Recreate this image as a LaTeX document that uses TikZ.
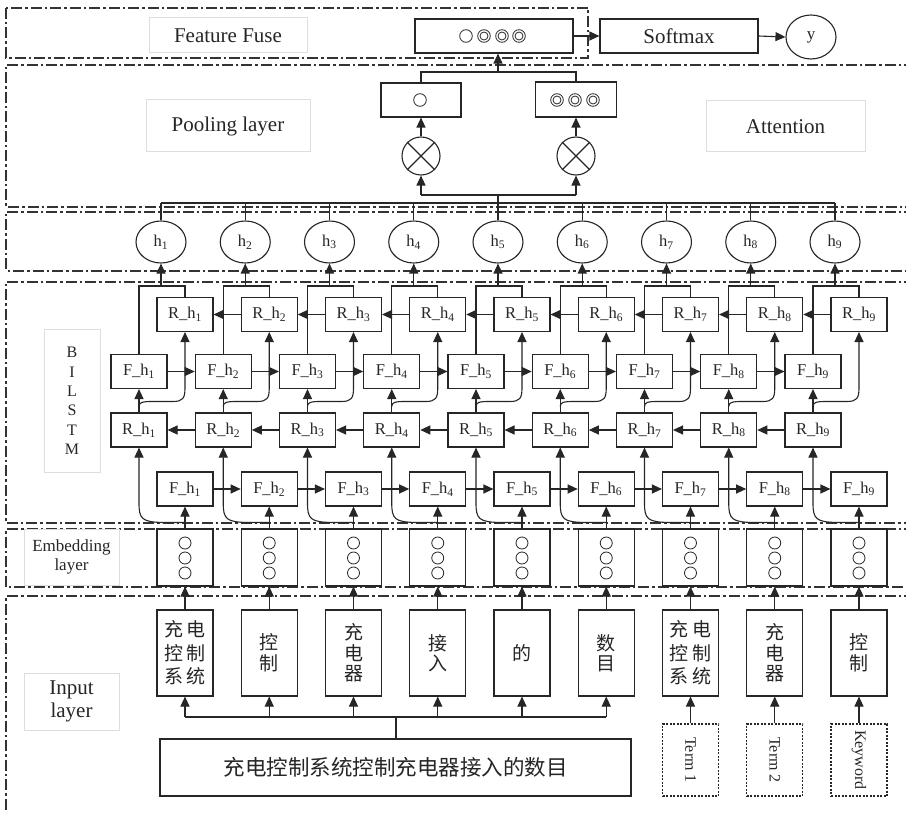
\documentclass[tikz,border=0pt]{standalone}
\usepackage{fontspec}
\setmainfont{Liberation Serif}
\newfontfamily\cjk{Noto Sans CJK SC}
\usetikzlibrary{arrows.meta,calc,shapes.geometric}
\begin{document}
\begin{tikzpicture}[x=1pt,y=-1pt,
 ln/.style={draw=black!85,line width=1.1pt},
 arr/.style={ln,-{Triangle[length=10pt,width=9pt]}},
 frm/.style={draw=black!80,line width=1.2pt,dash pattern=on 11pt off 3pt on 2.5pt off 3pt},
 lbl/.style={draw=black!13,line width=1pt,text=black!85,font=\fontsize{21}{24}\selectfont,align=center,inner sep=0pt},
 box/.style={draw=black!85,line width=1.1pt,minimum width=56pt,minimum height=34pt,inner sep=0pt,text=black!85,font=\fontsize{16.5}{18}\selectfont},
 hc/.style={ellipse,draw=black!85,line width=1.1pt,minimum width=50pt,minimum height=42pt,inner sep=0pt,text=black!85,font=\fontsize{16.5}{18}\selectfont},
 ebox/.style={box,minimum height=57pt},
 wbox/.style={box,minimum height=86pt,font=\cjk\fontsize{19}{20.5}\selectfont,align=center},
 wboxw/.style={wbox,font=\cjk\fontsize{19}{23.5}\selectfont},
 tbox/.style={box,minimum height=72pt,dash pattern=on 2pt off 1.5pt,font=\fontsize{16}{18}\selectfont},
 ring/.style={draw=black!85,line width=0.8pt},
 otc/.style={circle,draw=black!85,line width=1.1pt,minimum size=38pt,inner sep=0pt},
]
\clip (0,0) rectangle (906,813);
\fill[white] (0,0) rectangle (906,813);

% frames
\draw[frm] (6,8) rectangle (588,58);
\draw[frm] (915,65) -- (6,65) -- (6,207) -- (915,207);
\draw[frm] (915,212) -- (6,212) -- (6,271) -- (915,271);
\draw[frm] (915,282) -- (6,282) -- (6,523) -- (915,523);
\draw[frm] (915,529) -- (6,529) -- (6,587) -- (915,587);
\draw[frm] (915,596) -- (6,596) -- (6,820);

% layer labels
\node[lbl,minimum width=158pt,minimum height=35pt] (lff) at (228,35.5) {Feature Fuse};
\node[lbl,minimum width=164pt,minimum height=52pt] (lpl) at (228,126) {Pooling layer};
\node[lbl,minimum width=159pt,minimum height=51pt] (lat) at (785.5,126.5) {Attention};
\node[lbl,minimum width=56pt,minimum height=142pt,font=\fontsize{16}{19.4}\selectfont] (lbi) at (72,401) {B\\I\\L\\S\\T\\M};
\node[lbl,minimum width=95pt,minimum height=56pt,font=\fontsize{17}{19}\selectfont] (lem) at (71.5,557) {Embedding\\layer};
\node[lbl,minimum width=95pt,minimum height=57pt,font=\fontsize{21}{23}\selectfont] (lin) at (71.5,701.5) {Input\\layer};

% top part
\node[box,minimum width=158pt] (fuse) at (494,36) {};
\draw[ring] (466,36) circle (6.3pt);
\foreach \cx in {484,502,519}{\draw[ring] (\cx,36) circle (6.3pt) (\cx,36) circle (4pt);}
\node[box,minimum width=158pt,font=\fontsize{21}{24}\selectfont] (soft) at (679,36) {Softmax};
\node[hc,minimum height=44pt,font=\fontsize{17}{18}\selectfont] (y) at (811,37) {y};
\draw[arr] (fuse.east) -- (soft.west);
\draw[arr] (soft.east) -- (y.west);

\node[box,minimum width=80pt] (p1) at (421,100) {};
\draw[ring] (420,100) circle (6.3pt);
\node[box,minimum width=81pt,minimum height=35pt] (p2) at (576,99.5) {};
\foreach \cx in {557,575,593}{\draw[ring] (\cx,100) circle (6.3pt) (\cx,100) circle (4pt);}
\node[otc] (o1) at (421,156) {};
\node[otc] (o2) at (576,156) {};
\foreach \o in {o1,o2}{\draw[ln] (\o.north east) -- (\o.south west) (\o.north west) -- (\o.south east);}

% columns
\foreach \i in {1,...,9}{
 \pgfmathsetmacro\hx{161+84.25*(\i-1)}
 \pgfmathsetmacro\ax{\hx-22}
 \pgfmathsetmacro\bx{\hx+24}
 \node[hc] (h\i) at (\hx,242) {h\textsubscript{\i}};
 \node[box] (ra\i) at (\bx,314.5) {R\_h\textsubscript{\i}};
 \node[box] (fb\i) at (\ax,371.5) {F\_h\textsubscript{\i}};
 \node[box] (rc\i) at (\ax,430) {R\_h\textsubscript{\i}};
 \node[box] (fd\i) at (\bx,489) {F\_h\textsubscript{\i}};
 \node[ebox] (e\i) at (\bx,557.5) {};
 \draw[ring] (\bx,543) circle (6pt) (\bx,558) circle (6pt) (\bx,573) circle (6pt);
 % embedding -> forward / reverse
 \draw[arr] (e\i.north) -- (fd\i.south);
 \draw[arr] ($(e\i.north)+(0,-6)$) -- (\hx+2,522.5) .. controls (\ax+3,522) and (\ax,519) .. (\ax,503) -- (rc\i.south);
 % reverse -> forward, reverse
 \draw[arr] (rc\i.north) -- (fb\i.south);
 \draw[arr] ($(rc\i.north)+(0,-6)$) .. controls (\ax,402.5) and (\ax+3,401.5) .. (\ax+13,401.5) -- (\bx-12,401.5) .. controls (\bx-2,401.5) and (\bx,398) .. (\bx,388) -- (ra\i.south);
 % merge to h
 \draw[ln] (fb\i.north) -- (\ax,286) -- (\bx,286) -- (ra\i.north);
 \draw[arr] (\hx,286) -- (h\i.south);
 \draw[ln] (h\i.north) -- (\hx,203);
}
\foreach \i in {1,...,8}{
 \pgfmathtruncatemacro\j{\i+1}
 \draw[arr] (ra\j.west) -- (ra\i.east);
 \draw[arr] (fb\i.east) -- (fb\j.west);
 \draw[arr] (rc\j.west) -- (rc\i.east);
 \draw[arr] (fd\i.east) -- (fd\j.west);
}

% attention bus
\coordinate (bus) at (0,203);
\coordinate (att) at (0,195);
\coordinate (pt) at (0,72);
\draw[ln] (h1.north |- bus) -- (h9.north |- bus);
\draw[ln] (h5.north |- bus) -- (h5.north |- att);
\draw[ln] (o1.south |- att) -- (o2.south |- att);
\draw[arr] (o1.south |- att) -- (o1.south);
\draw[arr] (o2.south |- att) -- (o2.south);
\draw[arr] (o1.north) -- (p1.south);
\draw[arr] (o2.north) -- (p2.south);
\draw[ln] (p1.north) -- (p1.north |- pt) -- (p2.north |- pt) -- (p2.north);
\draw[arr] (h5.north |- pt) -- (h5.north |- fuse.south);

% input layer
\node[wboxw] (w1) at (185,653) {充\hspace{4pt}电\\控\hspace{4pt}制\\系\hspace{4pt}统};
\node[wbox] (w2) at (269.25,653) {控\\制};
\node[wbox] (w3) at (353.5,653) {充\\电\\器};
\node[wbox] (w4) at (437.75,653) {接\\入};
\node[wbox] (w5) at (522,653) {的};
\node[wbox] (w6) at (606.25,653) {数\\目};
\node[wboxw] (w7) at (690.5,653) {充\hspace{4pt}电\\控\hspace{4pt}制\\系\hspace{4pt}统};
\node[wbox] (w8) at (774.75,653) {充\\电\\器};
\node[wbox] (w9) at (859,653) {控\\制};
\foreach \i in {1,...,9}{\draw[arr] (w\i.north) -- (e\i.south);}

\node[box,minimum width=471pt,minimum height=57pt,font=\cjk\fontsize{21.5}{24}\selectfont] (s) at (395.5,767.5) {充电控制系统控制充电器接入的数目};
\coordinate (sb) at (396,717);
\draw[ln] (s.north -| sb) -- (sb);
\draw[ln] (w1.south |- sb) -- (w6.south |- sb);
\foreach \i in {1,...,6}{\draw[arr] (w\i.south |- sb) -- (w\i.south);}

\node[tbox] (t7) at (690.5,760) {\rotatebox{-90}{Term 1}};
\node[tbox] (t8) at (774.75,760) {\rotatebox{-90}{Term 2}};
\node[tbox] (t9) at (859,760) {\rotatebox{-90}{Keyword}};
\foreach \i in {7,8,9}{\draw[arr] (t\i.north) -- (w\i.south);}
\end{tikzpicture}
\end{document}
